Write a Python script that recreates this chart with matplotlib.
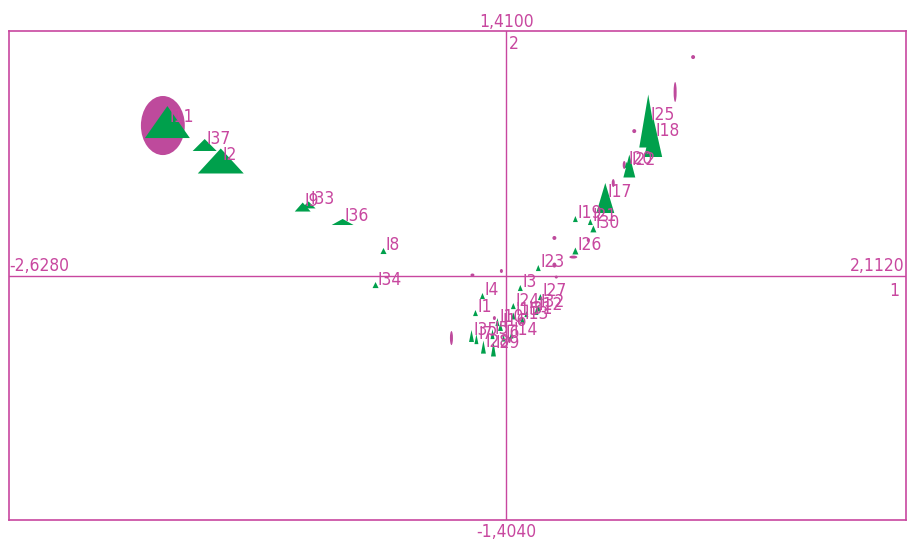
import matplotlib
matplotlib.use("Agg")
import matplotlib.pyplot as plt
from matplotlib import font_manager
from matplotlib.patches import Polygon, Ellipse

# pick a narrow face if one is installed
_faces = {(f.name, f.stretch) for f in font_manager.fontManager.ttflist}
_names = {n for n, s in _faces}
FAMILY, STRETCH = ['Liberation Sans', 'DejaVu Sans'], 'normal'
if 'Liberation Sans Narrow' in _names:
    FAMILY, STRETCH = ['Liberation Sans Narrow', 'DejaVu Sans'], 'normal'
elif any(n == 'DejaVu Sans' and s in ('condensed', 'semi-condensed') for n, s in _faces):
    FAMILY, STRETCH = ['DejaVu Sans'], 'condensed'
plt.rcParams['font.family'] = FAMILY
plt.rcParams['font.stretch'] = STRETCH

# Axis extents (as printed on the chart)
x_min, x_max = -2.628, 2.112
y_min, y_max = -1.404, 1.410
x_tick_labels = ["-2,6280", "2,1120"]
y_tick_labels = ["-1,4040", "1,4100"]
axis_names = ["1", "2"]

# Row points (green triangles): coordinates and the two contribution extents
row_labels = ["I11", "I37", "I2", "I9", "I33", "I36", "I8", "I34", "I23", "I3",
              "I4", "I1", "I24", "I27", "I32", "I12", "I15", "I13", "I31", "I16",
              "I10", "I14", "I6", "I35", "I7", "I28", "I29", "I5", "I25", "I18",
              "I22", "I20", "I17", "I19", "I21", "I30", "I26"]
row_x = [-1.791, -1.594, -1.509, -1.076, -1.045, -0.865, -0.649, -0.691, 0.169, 0.074,
         -0.126, -0.163, 0.037, 0.180, 0.169, 0.159, 0.037, 0.085, 0.106, -0.031,
         -0.047, 0.027, -0.015, -0.184, -0.158, -0.121, -0.068, -0.073, 0.750, 0.776,
         0.650, 0.636, 0.523, 0.365, 0.444, 0.460, 0.365]
row_y = [0.886, 0.754, 0.662, 0.397, 0.409, 0.311, 0.144, -0.052, 0.046, -0.069,
         -0.115, -0.213, -0.173, -0.121, -0.184, -0.201, -0.230, -0.253, -0.219, -0.293,
         -0.265, -0.340, -0.357, -0.345, -0.363, -0.409, -0.420, -0.334, 0.892, 0.800,
         0.633, 0.640, 0.449, 0.328, 0.311, 0.271, 0.144]
row_w = [0.2375, 0.127, 0.243, 0.084, 0.074, 0.116, 0.032, 0.032, 0.026, 0.026,
         0.026, 0.026, 0.026, 0.026, 0.026, 0.021, 0.026, 0.026, 0.021, 0.026,
         0.021, 0.021, 0.021, 0.026, 0.021, 0.026, 0.026, 0.021, 0.095, 0.095,
         0.063, 0.021, 0.095, 0.026, 0.026, 0.032, 0.032]
row_h = [0.184, 0.069, 0.144, 0.052, 0.040, 0.035, 0.035, 0.035, 0.035, 0.035,
         0.035, 0.035, 0.035, 0.035, 0.040, 0.046, 0.040, 0.040, 0.035, 0.046,
         0.046, 0.040, 0.040, 0.069, 0.058, 0.075, 0.086, 0.058, 0.305, 0.230,
         0.132, 0.035, 0.173, 0.035, 0.035, 0.040, 0.040]

# Column points (magenta ellipses)
col_x = [-1.815, 0.987, 0.892, 0.676, 0.623, 0.565, 0.254, 0.433, 0.354, 0.254,
         0.264, -0.179, -0.026, -0.290, -0.063, 0.016]
col_y = [0.866, 1.260, 1.059, 0.834, 0.639, 0.535, 0.219, 0.207, 0.109, 0.063,
         -0.006, 0.006, 0.029, -0.357, -0.242, -0.368]
col_w = [0.232, 0.021, 0.016, 0.021, 0.016, 0.016, 0.021, 0.016, 0.042, 0.021,
         0.016, 0.021, 0.016, 0.016, 0.016, 0.016]
col_h = [0.340, 0.023, 0.115, 0.023, 0.046, 0.046, 0.023, 0.023, 0.017, 0.029,
         0.017, 0.017, 0.023, 0.081, 0.023, 0.035]

MAG = '#C8479F'
MAG_FILL = '#BE4A9C'
GREEN = '#00A04C'
FS = 12.5

fig = plt.figure(figsize=(9.07, 5.40), dpi=100)
ax = fig.add_axes([9 / 907, 20 / 540, 897 / 907, 489 / 540])
ax.set_xlim(x_min, x_max)
ax.set_ylim(y_min, y_max)
ax.set_xticks([])
ax.set_yticks([])
for s in ax.spines.values():
    s.set_color(MAG)
    s.set_linewidth(1.2)

ax.axhline(0, color=MAG, lw=1.0, zorder=1)
ax.axvline(0, color=MAG, lw=1.0, zorder=1)

for x, y, w, h in zip(col_x, col_y, col_w, col_h):
    ax.add_patch(Ellipse((x, y), w, h, facecolor=MAG_FILL, edgecolor='none', zorder=2))

for x, y, w, h in zip(row_x, row_y, row_w, row_h):
    tri = [(x - w / 2, y - h / 2), (x + w / 2, y - h / 2), (x, y + h / 2)]
    ax.add_patch(Polygon(tri, closed=True, facecolor=GREEN, edgecolor='none', zorder=3))

for lab, x, y in zip(row_labels, row_x, row_y):
    ax.annotate(lab, (x, y), xytext=(1.5, 4), textcoords='offset points',
                ha='left', va='center', color=MAG, fontsize=FS, zorder=4)

# axis end values
ax.text(0, 1.0, y_tick_labels[1], transform=ax.get_xaxis_transform(), ha='center',
        va='bottom', color=MAG, fontsize=FS, clip_on=False)
ax.annotate(y_tick_labels[0], (0, 0), xycoords=('data', 'axes fraction'), xytext=(0, -2),
            textcoords='offset points', ha='center', va='top', color=MAG, fontsize=FS,
            annotation_clip=False)
ax.annotate(x_tick_labels[0], (0, 0), xycoords=('axes fraction', 'data'), xytext=(0, 1),
            textcoords='offset points', ha='left', va='bottom', color=MAG, fontsize=FS)
ax.annotate(x_tick_labels[1], (1, 0), xycoords=('axes fraction', 'data'), xytext=(-1, 1),
            textcoords='offset points', ha='right', va='bottom', color=MAG, fontsize=FS)
ax.annotate(axis_names[0], (1, 0), xycoords=('axes fraction', 'data'), xytext=(-5, -4),
            textcoords='offset points', ha='right', va='top', color=MAG, fontsize=FS)
ax.annotate(axis_names[1], (0, 1), xycoords=('data', 'axes fraction'), xytext=(2, -3),
            textcoords='offset points', ha='left', va='top', color=MAG, fontsize=FS)

fig.savefig("out.png", dpi=100)
